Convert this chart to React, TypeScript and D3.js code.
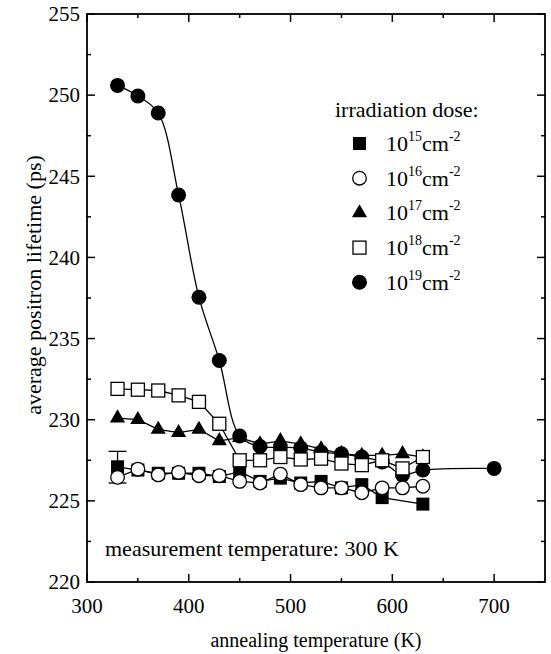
import React from "react";
import * as d3 from "d3";

// annealing temperatures (K)
const temps = [330, 350, 370, 390, 410, 430, 450, 470, 490, 510, 530, 550, 570, 590, 610, 630];
const temps15 = [330, 350, 370, 390, 410, 430, 450, 470, 490, 510, 530, 550, 570, 590, 630];
const temps19 = [330, 350, 370, 390, 410, 430, 450, 470, 490, 510, 530, 550, 570, 590, 610, 630, 700];

// average positron lifetime (ps) per irradiation dose
const dose15 = [227.1, 226.9, 226.7, 226.7, 226.7, 226.5, 226.8, 226.2, 226.4, 226.1, 226.2, 225.8, 226.0, 225.2, 224.8];
const dose16 = [226.45, 226.95, 226.6, 226.75, 226.55, 226.55, 226.2, 226.1, 226.65, 226.0, 225.8, 225.8, 225.5, 225.8, 225.8, 225.9];
const dose17 = [230.1, 230.0, 229.4, 229.2, 229.4, 228.7, 228.9, 228.5, 228.7, 228.5, 228.2, 227.9, 227.8, 227.8, 227.9, 227.7];
const dose18 = [231.9, 231.85, 231.8, 231.5, 231.1, 229.75, 227.5, 227.5, 227.7, 227.55, 227.6, 227.3, 227.2, 227.5, 227.0, 227.7];
const dose19 = [250.6, 249.95, 248.9, 243.85, 237.55, 233.65, 229.0, 228.35, 228.3, 228.25, 228.0, 227.9, 227.7, 227.4, 226.6, 226.9, 227.0];

// error bar on the first 10^15 point
const errTemp = 330;
const errLow = 226.1;
const errHigh = 228.05;

const xTicks = [300, 400, 500, 600, 700];
const xMinor = [350, 450, 550, 650];
const yTicks = [220, 225, 230, 235, 240, 245, 250, 255];
const yMinor = [222.5, 227.5, 232.5, 237.5, 242.5, 247.5, 252.5];

const legendExp = ["15", "16", "17", "18", "19"];

const FONT = "Liberation Serif, Times New Roman, Times, serif";

const x = d3.scaleLinear().domain([300, 750]).range([87, 545]);
const y = d3.scaleLinear().domain([220, 255]).range([582, 14]);

const lineLin = d3.line<[number, number]>().x(d => x(d[0])).y(d => y(d[1]));
const lineSmooth = d3.line<[number, number]>().x(d => x(d[0])).y(d => y(d[1])).curve(d3.curveCatmullRom.alpha(0.5));
const tri = d3.symbol(d3.symbolTriangle, 100)();

const zip = (a: number[], b: number[]) => a.map((t, i) => [t, b[i]] as [number, number]);

function Marker({ kind, cx, cy }: { kind: string; cx: number; cy: number }) {
  if (kind === "fsq") return <rect x={cx - 6.5} y={cy - 6.5} width={13} height={13} fill="#000" />;
  if (kind === "osq") return <rect x={cx - 6.5} y={cy - 6.5} width={13} height={13} fill="#fff" stroke="#000" strokeWidth={1.3} />;
  if (kind === "oc") return <circle cx={cx} cy={cy} r={6.8} fill="#fff" stroke="#000" strokeWidth={1.3} />;
  if (kind === "fc") return <circle cx={cx} cy={cy} r={7.5} fill="#000" />;
  return <path d={tri as string} transform={`translate(${cx},${cy})`} fill="#000" />;
}

const series = [
  { t: temps19, v: dose19, kind: "fc", smooth: true },
  { t: temps, v: dose17, kind: "tri", smooth: false },
  { t: temps15, v: dose15, kind: "fsq", smooth: false },
  { t: temps, v: dose16, kind: "oc", smooth: false },
  { t: temps, v: dose18, kind: "osq", smooth: false },
];
const legendKinds = ["fsq", "oc", "tri", "osq", "fc"];

export default function App() {
  const L = 87, R = 545, T = 14, B = 582;
  return (
    <svg width={551} height={654} style={{ position: "absolute", left: 0, top: 0, background: "#fff", fontFamily: FONT }}>
      <rect x={0} y={0} width={551} height={654} fill="#fff" />
      {/* data */}
      {series.map((s, si) => {
        const pts = zip(s.t, s.v);
        return (
          <g key={si}>
            <path d={(s.smooth ? lineSmooth : lineLin)(pts) as string} fill="none" stroke="#000" strokeWidth={1.3} />
            {s.kind === "fsq" && (
              <g stroke="#000" strokeWidth={1.3}>
                <line x1={x(errTemp)} x2={x(errTemp)} y1={y(errLow)} y2={y(errHigh)} />
                <line x1={x(errTemp) - 9} x2={x(errTemp) + 9} y1={y(errLow)} y2={y(errLow)} />
                <line x1={x(errTemp) - 9} x2={x(errTemp) + 9} y1={y(errHigh)} y2={y(errHigh)} />
              </g>
            )}
            {pts.map((p, i) => (
              <Marker key={i} kind={s.kind} cx={x(p[0])} cy={y(p[1])} />
            ))}
          </g>
        );
      })}

      {/* frame */}
      <rect x={L} y={T} width={R - L} height={B - T} fill="none" stroke="#000" strokeWidth={1.8} />
      <g stroke="#000" strokeWidth={1.5}>
        {xTicks.map(t => (
          <g key={"xt" + t}>
            <line x1={x(t)} x2={x(t)} y1={B} y2={B - 8} />
            <line x1={x(t)} x2={x(t)} y1={T} y2={T + 8} />
          </g>
        ))}
        {xMinor.map(t => (
          <g key={"xm" + t}>
            <line x1={x(t)} x2={x(t)} y1={B} y2={B - 4} />
            <line x1={x(t)} x2={x(t)} y1={T} y2={T + 4} />
          </g>
        ))}
        {yTicks.map(t => (
          <g key={"yt" + t}>
            <line x1={L} x2={L + 8} y1={y(t)} y2={y(t)} />
            <line x1={R} x2={R - 8} y1={y(t)} y2={y(t)} />
          </g>
        ))}
        {yMinor.map(t => (
          <g key={"ym" + t}>
            <line x1={L} x2={L + 4} y1={y(t)} y2={y(t)} />
            <line x1={R} x2={R - 4} y1={y(t)} y2={y(t)} />
          </g>
        ))}
      </g>

      {/* tick labels */}
      <g fontSize={21} fill="#000">
        {xTicks.map(t => (
          <text key={"xl" + t} x={x(t)} y={613} textAnchor="middle">{t}</text>
        ))}
        {yTicks.map(t => (
          <text key={"yl" + t} x={80} y={y(t)} dy="0.35em" textAnchor="end">{t}</text>
        ))}
      </g>

      {/* axis titles */}
      <text x={(L + R) / 2} y={647} textAnchor="middle" fontSize={20}>annealing temperature (K)</text>
      <text transform={`translate(41,285) rotate(-90)`} textAnchor="middle" fontSize={22}>
        average positron lifetime (ps)
      </text>

      {/* annotation */}
      <text x={105} y={556} fontSize={22}>measurement temperature: 300 K</text>

      {/* legend */}
      <text x={335} y={117} fontSize={22}>irradiation dose:</text>
      {legendExp.map((e, i) => {
        const cy = 143.5 + i * 34.7;
        return (
          <g key={"lg" + e}>
            <Marker kind={legendKinds[i]} cx={359.5} cy={cy} />
            <text x={386} y={cy + 7.5} fontSize={22}>
              10<tspan fontSize={14} dy={-10}>{e}</tspan>
              <tspan dy={10}>cm</tspan>
              <tspan fontSize={14} dy={-10}>-2</tspan>
            </text>
          </g>
        );
      })}
    </svg>
  );
}
